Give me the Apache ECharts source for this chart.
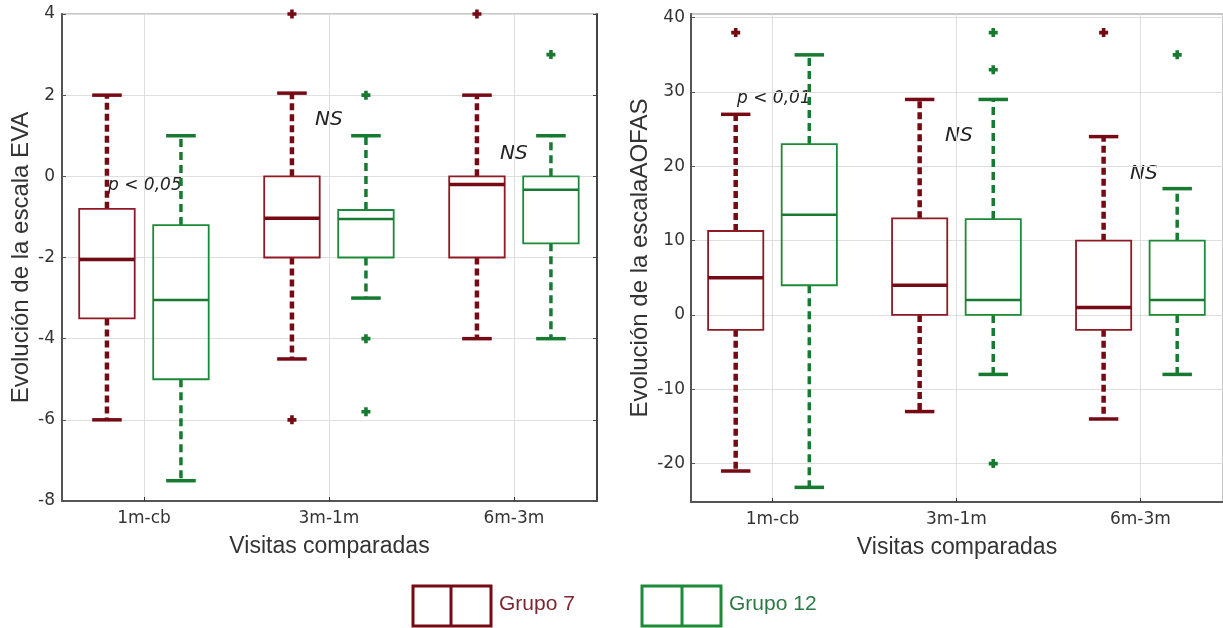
<!DOCTYPE html>
<html>
<head>
<meta charset="utf-8">
<title>Evolución EVA / AOFAS</title>
<script src="https://cdn.jsdelivr.net/npm/echarts@6/dist/echarts.min.js"></script>
<style>
  html, body { margin: 0; padding: 0; background: #fff; }
  #chart { width: 1223px; height: 628px; }
</style>
</head>
<body>
<div id="chart"></div>
<script>
// categorias del eje x
var categories = ['1m-cb', '3m-1m', '6m-3m'];

// cajas: [bigote inf, Q1, mediana, Q3, bigote sup] por categoria
var evaG7Box = [
  [-6, -3.5, -2.05, -0.8, 2],
  [-4.5, -2, -1.03, 0, 2.05],
  [-4, -2, -0.2, 0, 2]
];
var evaG12Box = [
  [-7.5, -5, -3.05, -1.2, 1],
  [-3, -2, -1.05, -0.83, 1],
  [-4, -1.65, -0.33, 0, 1]
];
// atipicos: [indice categoria, valor]
var evaG7Out = [[1, 4], [1, -6], [2, 4]];
var evaG12Out = [[1, 2], [1, -4], [1, -5.8], [2, 3]];

var aofasG7Box = [
  [-21, -2, 5, 11.3, 27],
  [-13, 0, 4, 13, 29],
  [-14, -2, 1, 10, 24]
];
var aofasG12Box = [
  [-23.2, 4, 13.5, 23, 35],
  [-8, 0, 2, 12.9, 29],
  [-8, 0, 2, 10, 17]
];
var aofasG7Out = [[0, 38], [2, 38]];
var aofasG12Out = [[1, 38], [1, 33], [1, -20], [2, 35]];

var aofasTicks = [-20, -10, 0, 10, 20, 30, 40];

var RED = '#8e1a26', RED_D = '#760a14';
var GREEN = '#1d8a3a', GREEN_D = '#177a30';
var PLUS = 'path://M3,0H7V3H10V7H7V10H3V7H0V3H3Z';

function makeBox(offset, boxColor, whiskerColor, whiskerW, dash, medianW) {
  return function (params, api) {
    var x = api.value(0) + offset;
    var lo = api.value(1), q1 = api.value(2), med = api.value(3), q3 = api.value(4), hi = api.value(5);
    var tl = api.coord([x - 0.15, q3]);
    var br = api.coord([x + 0.15, q1]);
    function c(v) { return api.coord([x, v]); }
    function line(a, b, style) {
      return { type: 'line', shape: { x1: a[0], y1: a[1], x2: b[0], y2: b[1] }, style: style };
    }
    var dashed = { stroke: whiskerColor, lineWidth: whiskerW, lineDash: dash };
    var cap = { stroke: whiskerColor, lineWidth: 3.5 };
    return {
      type: 'group',
      children: [
        line(c(q3), c(hi), dashed),
        line(c(q1), c(lo), dashed),
        line(api.coord([x - 0.08, hi]), api.coord([x + 0.08, hi]), cap),
        line(api.coord([x - 0.08, lo]), api.coord([x + 0.08, lo]), cap),
        { type: 'rect', shape: { x: tl[0], y: tl[1], width: br[0] - tl[0], height: br[1] - tl[1] },
          style: { fill: 'none', stroke: boxColor, lineWidth: 1.8 } },
        line(api.coord([x - 0.15, med]), api.coord([x + 0.15, med]), { stroke: whiskerColor, lineWidth: medianW })
      ]
    };
  };
}

function boxData(arr) {
  return arr.map(function (b, i) { return [i + 1].concat(b); });
}
function outData(arr, offset) {
  return arr.map(function (o) { return [o[0] + 1 + offset, o[1]]; });
}

var tickFont = { fontFamily: 'DejaVu Sans', fontSize: 17, color: '#333' };
var axisLineDark = { show: true, onZero: false, lineStyle: { color: '#555', width: 2 } };
var splitGray = { show: true, lineStyle: { color: '#dedede', width: 1 } };

function xAxisFor(gridIndex) {
  return {
    type: 'value', gridIndex: gridIndex, min: 0.557, max: 3.449,
    axisLine: axisLineDark,
    axisTick: { show: true, inside: true, length: 4, customValues: [1, 2, 3], lineStyle: { color: '#333' } },
    axisLabel: Object.assign({ margin: 9, customValues: [1, 2, 3],
      formatter: function (v) { return categories[Math.round(v) - 1]; } }, tickFont),
    splitLine: splitGray,
    name: 'Visitas comparadas', nameLocation: 'middle', nameGap: 34,
    nameTextStyle: { fontFamily: 'Liberation Sans', fontSize: 23, color: '#333' }
  };
}

var myChart = echarts.init(document.getElementById('chart'));
myChart.setOption({
  animation: false,
  backgroundColor: '#fff',
  grid: [
    { left: 62, top: 14, width: 535, height: 487, show: true, borderColor: '#b5b5b5', borderWidth: 1.5 },
    { left: 691, top: 14, width: 535, height: 488, show: true, borderColor: '#b5b5b5', borderWidth: 1.5 }
  ],
  xAxis: [xAxisFor(0), xAxisFor(1)],
  yAxis: [
    {
      type: 'value', gridIndex: 0, min: -8, max: 4, interval: 2,
      axisLine: axisLineDark,
      axisTick: { show: true, inside: true, length: 4 },
      axisLabel: Object.assign({ margin: 7 }, tickFont),
      splitLine: splitGray,
      name: 'Evolución de la escala EVA', nameLocation: 'middle', nameGap: 29,
      nameTextStyle: { fontFamily: 'Liberation Sans', fontSize: 24, color: '#333' }
    },
    {
      type: 'value', gridIndex: 1, min: -25.17, max: 40.5,
      axisLine: axisLineDark,
      axisTick: { show: true, inside: true, length: 4, customValues: aofasTicks },
      axisLabel: Object.assign({ margin: 6, customValues: aofasTicks }, tickFont),
      splitLine: splitGray,
      name: 'Evolución de la escalaAOFAS', nameLocation: 'middle', nameGap: 39,
      nameTextStyle: { fontFamily: 'Liberation Sans', fontSize: 24, color: '#333' }
    },
    {
      type: 'value', gridIndex: 0, position: 'right', min: -8, max: 4, interval: 2,
      axisLine: { show: true, onZero: false, lineStyle: { color: '#444', width: 2 } },
      axisTick: { show: true, inside: true, length: 4 },
      axisLabel: { show: false }, splitLine: { show: false }
    }
  ],
  series: [
    { type: 'custom', xAxisIndex: 0, yAxisIndex: 0, data: boxData(evaG7Box),
      encode: { x: 0, y: [1, 2, 3, 4, 5] },
      renderItem: makeBox(-0.2, RED, RED_D, 4.5, [7, 4], 3.5) },
    { type: 'custom', xAxisIndex: 0, yAxisIndex: 0, data: boxData(evaG12Box),
      encode: { x: 0, y: [1, 2, 3, 4, 5] },
      renderItem: makeBox(0.2, GREEN, GREEN_D, 3.5, [8, 5], 2.5) },
    { type: 'scatter', xAxisIndex: 0, yAxisIndex: 0, data: outData(evaG7Out, -0.2),
      symbol: PLUS, symbolSize: 9, itemStyle: { color: RED_D, opacity: 1 } },
    { type: 'scatter', xAxisIndex: 0, yAxisIndex: 0, data: outData(evaG12Out, 0.2),
      symbol: PLUS, symbolSize: 9, itemStyle: { color: GREEN_D, opacity: 1 } },
    { type: 'custom', xAxisIndex: 1, yAxisIndex: 1, data: boxData(aofasG7Box),
      encode: { x: 0, y: [1, 2, 3, 4, 5] },
      renderItem: makeBox(-0.2, RED, RED_D, 4.5, [7, 4], 3.5) },
    { type: 'custom', xAxisIndex: 1, yAxisIndex: 1, data: boxData(aofasG12Box),
      encode: { x: 0, y: [1, 2, 3, 4, 5] },
      renderItem: makeBox(0.2, GREEN, GREEN_D, 3.5, [8, 5], 2.5) },
    { type: 'scatter', xAxisIndex: 1, yAxisIndex: 1, data: outData(aofasG7Out, -0.2),
      symbol: PLUS, symbolSize: 9, itemStyle: { color: RED_D, opacity: 1 } },
    { type: 'scatter', xAxisIndex: 1, yAxisIndex: 1, data: outData(aofasG12Out, 0.2),
      symbol: PLUS, symbolSize: 9, itemStyle: { color: GREEN_D, opacity: 1 } }
  ],
  graphic: [
    { type: 'text', x: 108, y: 186, style: { text: 'p < 0,05', font: 'oblique 17px "DejaVu Sans"', fill: '#222', verticalAlign: 'middle' } },
    { type: 'text', x: 315, y: 120, style: { text: 'NS', font: 'oblique 20px "DejaVu Sans"', fill: '#222', verticalAlign: 'middle' } },
    { type: 'text', x: 500, y: 154, style: { text: 'NS', font: 'oblique 20px "DejaVu Sans"', fill: '#222', verticalAlign: 'middle' } },
    { type: 'text', x: 737, y: 99, style: { text: 'p < 0,01', font: 'oblique 17px "DejaVu Sans"', fill: '#222', verticalAlign: 'middle' } },
    { type: 'text', x: 945, y: 136, style: { text: 'NS', font: 'oblique 20px "DejaVu Sans"', fill: '#222', verticalAlign: 'middle' } },
    { type: 'text', x: 1130, y: 174, style: { text: 'NS', font: 'oblique 20px "DejaVu Sans"', fill: '#222', verticalAlign: 'middle' } },
    // leyenda
    { type: 'rect', shape: { x: 413, y: 586, width: 78, height: 40 }, style: { fill: 'none', stroke: RED_D, lineWidth: 3 } },
    { type: 'line', shape: { x1: 451, y1: 586, x2: 451, y2: 626 }, style: { stroke: RED_D, lineWidth: 3 } },
    { type: 'text', x: 499, y: 604, style: { text: 'Grupo 7', font: '21px "Liberation Sans"', fill: '#7b2530', verticalAlign: 'middle' } },
    { type: 'rect', shape: { x: 642, y: 586, width: 79, height: 40 }, style: { fill: 'none', stroke: GREEN, lineWidth: 3 } },
    { type: 'line', shape: { x1: 682, y1: 586, x2: 682, y2: 626 }, style: { stroke: GREEN, lineWidth: 3 } },
    { type: 'text', x: 729, y: 604, style: { text: 'Grupo 12', font: '21px "Liberation Sans"', fill: '#2a7a45', verticalAlign: 'middle' } }
  ]
});
</script>
</body>
</html>
